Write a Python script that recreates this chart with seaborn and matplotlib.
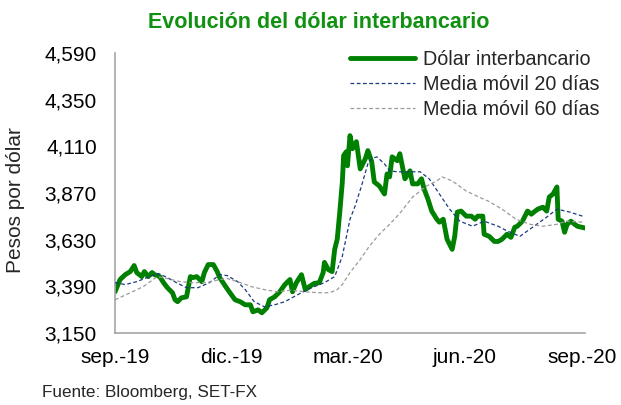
import pandas as pd
import matplotlib
matplotlib.use("Agg")
import matplotlib.pyplot as plt
import seaborn as sns

# Dólar interbancario (días desde el 1-sep-2019, pesos por dólar)
dias_dolar = [0, 4, 8, 12, 15, 17, 21, 23, 26, 29, 31, 35, 38, 41, 45, 47, 49, 52, 56,
              59, 61, 64, 68, 70, 73, 77, 80, 82, 86, 90, 94, 98, 102, 106, 108, 112,
              115, 119, 121, 125, 129, 133, 137, 139, 142, 146, 149, 152, 156, 160,
              163, 164, 167, 170, 172, 174, 176, 178, 179, 181, 182, 184, 186, 189,
              192, 196, 198, 201, 203, 207, 211, 213, 215, 217, 221, 223, 227, 231,
              233, 237, 240, 242, 245, 248, 252, 254, 257, 260, 264, 266, 268, 271,
              275, 279, 282, 284, 288, 289, 293, 297, 300, 303, 307, 310, 313, 315,
              319, 323, 326, 328, 331, 335, 338, 340, 343, 346, 347, 350, 352, 354,
              357, 360, 362, 368]
dolar = [3362, 3425, 3450, 3466, 3497, 3461, 3440, 3466, 3440, 3461, 3450, 3440, 3409,
         3383, 3357, 3321, 3311, 3331, 3336, 3440, 3435, 3440, 3414, 3461, 3502, 3502,
         3466, 3435, 3395, 3357, 3321, 3311, 3295, 3295, 3259, 3269, 3254, 3280, 3321,
         3336, 3362, 3399, 3425, 3362, 3409, 3450, 3373, 3388, 3405, 3409, 3461, 3513,
         3476, 3466, 3580, 3632, 3772, 3927, 4062, 4082, 4010, 4165, 4098, 4134, 3994,
         4046, 4088, 4031, 3927, 3906, 3865, 3968, 3953, 4056, 4036, 4072, 3943, 3984,
         3917, 3917, 3943, 3891, 3839, 3777, 3735, 3720, 3735, 3632, 3580, 3647, 3772,
         3777, 3751, 3751, 3735, 3751, 3751, 3658, 3647, 3621, 3621, 3632, 3658, 3642,
         3694, 3699, 3725, 3777, 3761, 3772, 3787, 3797, 3777, 3849, 3865, 3901, 3735,
         3725, 3668, 3709, 3725, 3709, 3699, 3690]

# Media móvil 20 días
dias_mm20 = [0, 8, 17, 27, 34, 41, 48, 56, 65, 74, 82, 88, 96, 102, 109, 117, 125, 133,
             143, 154, 164, 172, 178, 184, 188, 193, 198, 201, 205, 211, 215, 221, 228,
             239, 246, 254, 262, 270, 280, 289, 300, 307, 317, 327, 338, 346, 356, 366]
mm20 = [3409, 3399, 3414, 3440, 3456, 3435, 3409, 3383, 3383, 3409, 3450, 3445, 3414,
        3373, 3311, 3285, 3295, 3311, 3347, 3383, 3409, 3440, 3545, 3735, 3803, 3906,
        4020, 4046, 4056, 4020, 3984, 3979, 3979, 3979, 3943, 3865, 3787, 3725, 3699,
        3725, 3699, 3675, 3647, 3694, 3746, 3787, 3772, 3751]

# Media móvil 60 días
dias_mm60 = [0, 12, 22, 33, 41, 51, 61, 72, 82, 88, 96, 107, 117, 127, 138, 149, 159,
             168, 174, 178, 184, 192, 199, 207, 215, 223, 233, 244, 252, 256, 264, 275,
             285, 293, 303, 314, 325, 335, 346, 353, 366]
mm60 = [3321, 3357, 3388, 3440, 3430, 3414, 3409, 3409, 3425, 3430, 3414, 3388, 3373,
        3362, 3370, 3362, 3357, 3357, 3373, 3400, 3461, 3528, 3595, 3658, 3709, 3765,
        3849, 3906, 3932, 3953, 3932, 3880, 3849, 3826, 3787, 3735, 3709, 3699, 3709,
        3725, 3720]

etiquetas_x = ["sep.-19", "dic.-19", "mar.-20", "jun.-20", "sep.-20"]
fechas_ticks = ["2019-09-01", "2019-12-01", "2020-03-01", "2020-06-01", "2020-09-01"]
ticks_y = [3150, 3390, 3630, 3870, 4110, 4350, 4590]

inicio = pd.Timestamp("2019-09-01")
df_dolar = pd.DataFrame({"fecha": inicio + pd.to_timedelta(dias_dolar, unit="D"), "valor": dolar})
df_mm20 = pd.DataFrame({"fecha": inicio + pd.to_timedelta(dias_mm20, unit="D"), "valor": mm20})
df_mm60 = pd.DataFrame({"fecha": inicio + pd.to_timedelta(dias_mm60, unit="D"), "valor": mm60})

sns.set_style("white")
plt.rcParams["font.family"] = ["Liberation Sans", "DejaVu Sans"]

fig = plt.figure(figsize=(6.21, 4.05), dpi=100)
ax = fig.add_axes([115 / 621, 1 - 333 / 405, 470 / 621, 280 / 405])

verde = "#008000"
sns.lineplot(data=df_dolar, x="fecha", y="valor", ax=ax, color=verde, linewidth=3.5,
             label="Dólar interbancario", zorder=2)
sns.lineplot(data=df_mm20, x="fecha", y="valor", ax=ax, color="#1c3a80", linewidth=0.9,
             dashes=(3, 2), label="Media móvil 20 días", zorder=3)
sns.lineplot(data=df_mm60, x="fecha", y="valor", ax=ax, color="#9a9a9a", linewidth=0.9,
             dashes=(3, 2), label="Media móvil 60 días", zorder=3)

ax.set_xlim(inicio, pd.Timestamp("2020-09-03"))
ax.set_ylim(3150, 4590)
ax.set_yticks(ticks_y)
ax.set_yticklabels([f"{v:,}" for v in ticks_y])
ax.set_xticks(pd.to_datetime(fechas_ticks))
ax.set_xticklabels(etiquetas_x)
ax.tick_params(axis="both", length=0, labelsize=15, colors="black")
ax.tick_params(axis="y", pad=13)
ax.tick_params(axis="x", pad=11)
ax.set_xlabel("")
ax.set_ylabel("")

for lado in ["top", "right"]:
    ax.spines[lado].set_visible(False)
for lado in ["left", "bottom"]:
    ax.spines[lado].set_color("#a6a6a6")
    ax.spines[lado].set_linewidth(1.2)

ax.legend(loc="upper left", bbox_to_anchor=(350 / 621, 1 - 50 / 405),
          bbox_transform=fig.transFigure, frameon=False, fontsize=14.2,
          handlelength=3.3, handletextpad=0.4, labelspacing=0.3,
          borderpad=0, borderaxespad=0)

fig.text(319 / 621, 1 - 23 / 405, "Evolución del dólar interbancario", ha="center",
         va="center", fontsize=15.5, fontweight="bold", color="#119111")
fig.text(16 / 621, 1 - 200 / 405, "Pesos por dólar", rotation=90, ha="center",
         va="center", fontsize=15)
fig.text(42 / 621, 1 - 392 / 405, "Fuente: Bloomberg, SET-FX", ha="left",
         va="center", fontsize=12.3)

plt.savefig("out.png", dpi=100)
